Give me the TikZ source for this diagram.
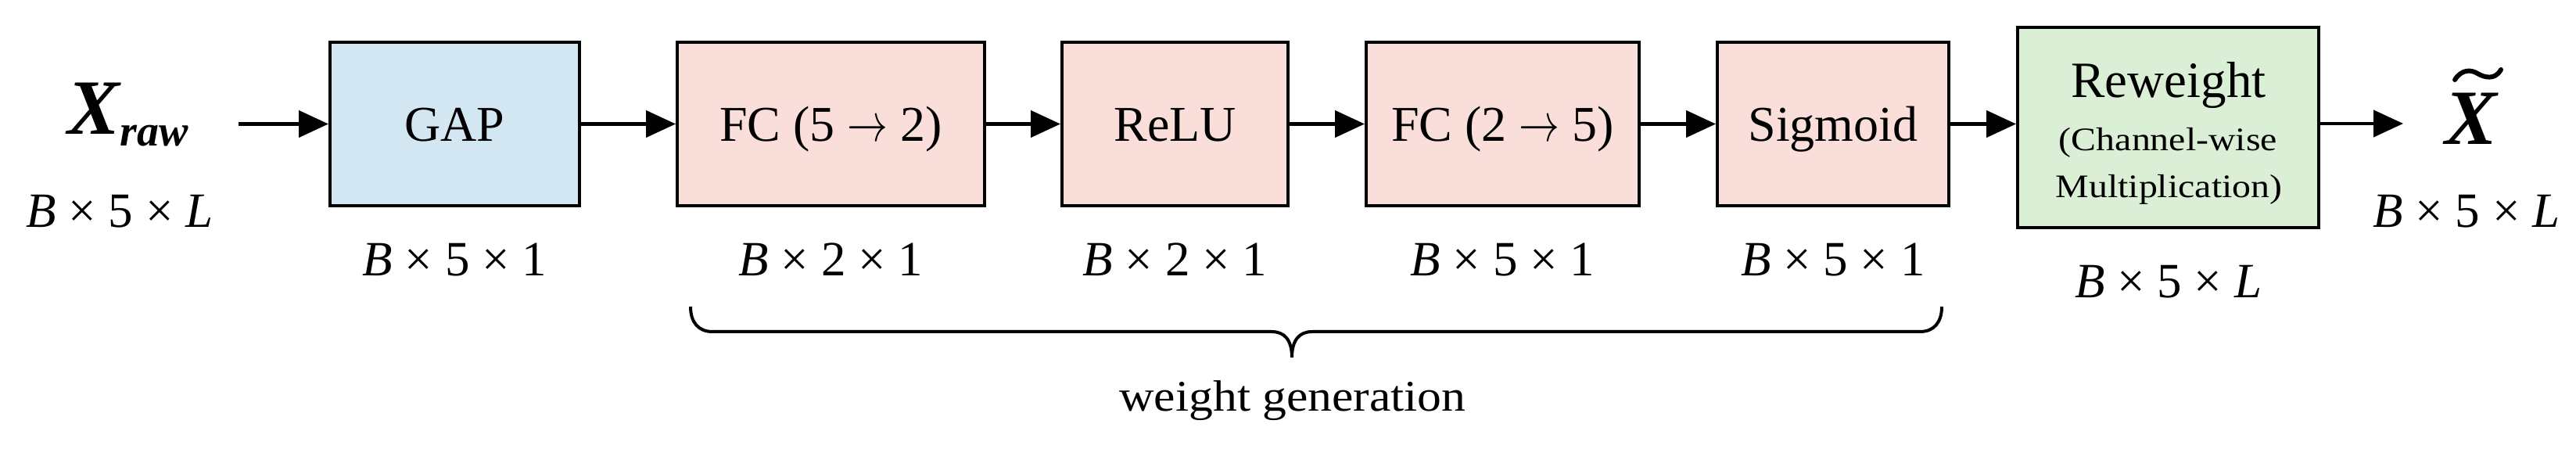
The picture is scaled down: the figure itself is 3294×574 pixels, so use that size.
\documentclass[tikz,border=0pt]{standalone}
\usepackage{fontspec}
\setmainfont{Liberation Serif}
\newfontfamily\cwfont[FakeStretch=1.14]{Liberation Serif}
\newfontfamily\wgfont[FakeStretch=1.1]{Liberation Serif}
\usetikzlibrary{arrows.meta}
\definecolor{gapblue}{HTML}{D3E7F3}
\definecolor{fcpink}{HTML}{F9DEDA}
\definecolor{rwgreen}{HTML}{DAEFD6}
\newcommand{\myrarr}{\scalebox{0.75}[1]{$\rightarrow$}}
\tikzset{
  blk/.style={draw=black, line width=0.9pt, inner sep=0pt,
    minimum height=52.35pt, font=\fontsize{16}{19}\selectfont,
    text height=11.2pt, text depth=0pt},
  dimlab/.style={anchor=base, inner sep=0pt, font=\fontsize{15.75}{18}\selectfont},
  arr/.style={line width=1.1pt, -{Triangle[length=9.5pt,width=8.5pt]}},
  txt/.style={anchor=base, inner sep=0pt}
}
\begin{document}
\begin{tikzpicture}[x=0.25pt,y=-0.25pt]
\useasboundingbox (0,0) rectangle (3294,574);
\fill[white] (0,0) rectangle (3294,574);

% input
\node[anchor=base west, inner sep=0pt] (xraw) at (86,172)
  {{\fontsize{25}{30}\selectfont\bfseries\itshape X}\raisebox{-3.75pt}{\fontsize{14}{16}\selectfont\bfseries\itshape raw}};
\node[dimlab] (din) at (153,291) {\textit{B} × 5 × \textit{L}};

% blocks
\node[blk, fill=gapblue, minimum width=79.85pt] (gap) at (581.5,158.5) {GAP};
\node[blk, fill=fcpink, minimum width=98.35pt] (fc1) at (1062.5,158.5) {FC (5 \myrarr{} 2)};
\node[blk, fill=fcpink, minimum width=72.35pt] (relu) at (1502.5,158.5) {ReLU};
\node[blk, fill=fcpink, minimum width=87.35pt] (fc2) at (1921.5,158.5) {FC (2 \myrarr{} 5)};
\node[blk, fill=fcpink, minimum width=74.1pt] (sig) at (2344,158.5) {Sigmoid};
\node[blk, fill=rwgreen, minimum width=96.35pt, minimum height=64.1pt] (rw) at (2772.5,163) {};
\node[txt, font=\fontsize{16.25}{19}\selectfont] (rwt1) at (2773,125) {Reweight};
\node[txt, font=\cwfont\fontsize{10.5}{12}\selectfont] (rwt2) at (2772.5,193) {(Channel-wise};
\node[txt, font=\cwfont\fontsize{10.5}{12}\selectfont] (rwt3) at (2773.5,253) {Multiplication)};

% dimension labels
\node[dimlab] (dgap) at (581.5,353) {\textit{B} × 5 × 1};
\node[dimlab] (dfc1) at (1062.5,353) {\textit{B} × 2 × 1};
\node[dimlab] (drelu) at (1502.5,353) {\textit{B} × 2 × 1};
\node[dimlab] (dfc2) at (1921.5,353) {\textit{B} × 5 × 1};
\node[dimlab] (dsig) at (2344,353) {\textit{B} × 5 × 1};
\node[dimlab] (drw) at (2772.5,381) {\textit{B} × 5 × \textit{L}};

% output
\node[txt] (xt) at (3160,185) {\fontsize{25}{30}\selectfont\bfseries\itshape X};
\draw[line width=1.5pt, line cap=round] (3139,102) .. controls (3148,88) and (3160,89) .. (3168,94)
  .. controls (3177,99) and (3190,103) .. (3198,89);
\node[dimlab] (dout) at (3154,291) {\textit{B} × 5 × \textit{L}};

% connectors
\coordinate (xin) at (305,158.5);
\coordinate (xout) at (3073,158);
\draw[arr] (xin) -- (gap.west);
\draw[arr] (gap) -- (fc1);
\draw[arr] (fc1) -- (relu);
\draw[arr] (relu) -- (fc2);
\draw[arr] (fc2) -- (sig);
\draw[arr] (sig.east) -- (sig.east -| rw.west);
\draw[arr] (rw.east |- xout) -- (xout);

% brace
\draw[line width=1pt] (883,392) .. controls (883,412) and (893,424) .. (911,424) -- (1626,424)
  .. controls (1642,424) and (1652,434) .. (1652,457)
  .. controls (1652,434) and (1662,424) .. (1678,424) -- (2455,424)
  .. controls (2473,424) and (2483,412) .. (2483,392);
\node[txt, font=\wgfont\fontsize{14}{16}\selectfont] (wg) at (1653,526) {weight generation};
\end{tikzpicture}
\end{document}
